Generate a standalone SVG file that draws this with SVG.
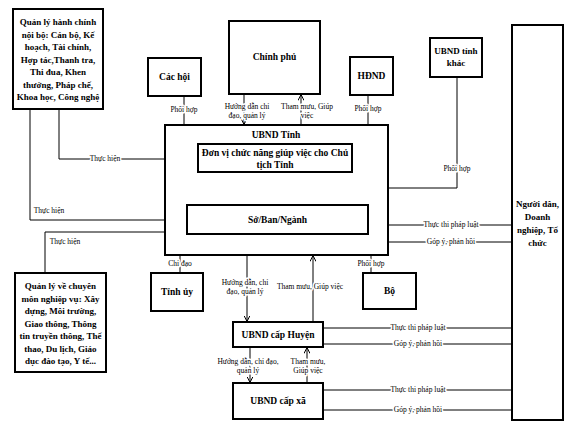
<svg xmlns="http://www.w3.org/2000/svg" width="575" height="427" viewBox="0 0 575 427">
<defs>
<marker id="ah" viewBox="0 0 6 6" refX="5.5" refY="3" markerWidth="6" markerHeight="6" orient="auto" markerUnits="userSpaceOnUse">
<path d="M0,0 L6,3 L0,6" fill="none" stroke="#000" stroke-width="1"/>
</marker>
<style>
.box{fill:#fff;stroke:#000;stroke-width:2}
.t{font-family:"Liberation Serif","Times New Roman",serif;font-size:9.5px;font-weight:bold;text-anchor:middle;fill:#000}
.s{font-size:9px}
.l{font-family:"Liberation Serif","Times New Roman",serif;font-size:7.5px;text-anchor:middle;fill:#000;stroke:#fff;stroke-width:3;paint-order:stroke;stroke-linejoin:round}
.c{fill:none;stroke:#000;stroke-width:1}
</style>
</defs>
<rect width="575" height="427" fill="#fff"/>
<g id="connectors">
<path class="c" d="M59,109 V159 H198"/>
<path class="c" d="M30,109 V220 H187"/>
<path class="c" d="M165,232 H45 V273"/>
<path class="c" d="M184,96 V125"/>
<path class="c" d="M244,94 V124" marker-end="url(#ah)"/>
<path class="c" d="M301,125 V95" marker-end="url(#ah)"/>
<path class="c" d="M368,95 V125"/>
<path class="c" d="M457,77 V188 H389"/>
<path class="c" d="M246,172 V204" marker-end="url(#ah)"/>
<path class="c" d="M308,205 V173" marker-end="url(#ah)"/>
<path class="c" d="M389,225 H512"/>
<path class="c" d="M389,242 H512"/>
<path class="c" d="M180,255 V273"/>
<path class="c" d="M371,255 V273"/>
<path class="c" d="M247,255 V321" marker-end="url(#ah)"/>
<path class="c" d="M313,322 V256" marker-end="url(#ah)"/>
<path class="c" d="M323,328 H512"/>
<path class="c" d="M323,344 H512"/>
<path class="c" d="M250,347 V382" marker-end="url(#ah)"/>
<path class="c" d="M307,383 V348" marker-end="url(#ah)"/>
<path class="c" d="M323,390 H512"/>
<path class="c" d="M323,410 H512"/>
<text class="l" x="105" y="161">Thực hiện</text>
<text class="l" x="49" y="213">Thực hiện</text>
<text class="l" x="65" y="244">Thực hiện</text>
<text class="l" x="184" y="112">Phối hợp</text>
<text class="l" x="247" y="109">Hướng dẫn chỉ</text>
<text class="l" x="247" y="118">đạo, quản lý</text>
<text class="l" x="307" y="109">Tham mưu, Giúp</text>
<text class="l" x="307" y="118">việc</text>
<text class="l" x="368" y="111">Phối hợp</text>
<text class="l" x="457" y="171">Phối hợp</text>
<text class="l" x="246" y="185">Hướng dẫn, chỉ đạo,</text>
<text class="l" x="246" y="195">quản lý</text>
<text class="l" x="312" y="185">Tham mưu, Giúp</text>
<text class="l" x="312" y="195">việc</text>
<text class="l" x="451" y="227">Thực thi pháp luật</text>
<text class="l" x="451" y="244">Góp ý, phản hồi</text>
<text class="l" x="180" y="266">Chỉ đạo</text>
<text class="l" x="371" y="266">Phối hợp</text>
<text class="l" x="245" y="285">Hướng dẫn, chỉ</text>
<text class="l" x="245" y="294">đạo, quản lý</text>
<text class="l" x="310" y="289">Tham mưu, Giúp việc</text>
<text class="l" x="418" y="330">Thực thi pháp luật</text>
<text class="l" x="418" y="346">Góp ý, phản hồi</text>
<text class="l" x="248" y="364">Hướng dẫn, chỉ đạo,</text>
<text class="l" x="248" y="373">quản lý</text>
<text class="l" x="308" y="364">Tham mưu,</text>
<text class="l" x="308" y="373">Giúp việc</text>
<text class="l" x="418" y="392">Thực thi pháp luật</text>
<text class="l" x="418" y="412">Góp ý, phản hồi</text>
</g>
<g id="ql-hanh-chinh">
<rect class="box" x="13" y="9" width="90" height="100"/>
<text class="t s" x="58" y="25">Quản lý hành chính</text>
<text class="t s" x="58" y="37.5">nội bộ: Cán bộ, Kế</text>
<text class="t s" x="58" y="50">hoạch, Tài chính,</text>
<text class="t s" x="58" y="62.5">Hợp tác,Thanh tra,</text>
<text class="t s" x="58" y="75">Thi đua, Khen</text>
<text class="t s" x="58" y="87.5">thưởng, Pháp chế,</text>
<text class="t s" x="58" y="100">Khoa học, Công nghệ</text>
</g>
<g id="cac-hoi">
<rect class="box" x="148" y="58" width="53" height="38"/>
<text class="t" x="174.5" y="80">Các hội</text>
</g>
<g id="chinh-phu">
<rect class="box" x="229" y="21" width="91" height="73"/>
<text class="t" x="274.5" y="60">Chính phủ</text>
</g>
<g id="hdnd">
<rect class="box" x="350" y="57" width="43" height="38"/>
<text class="t" x="371.5" y="79">HĐND</text>
</g>
<g id="ubnd-tinh-khac">
<rect class="box" x="430" y="38" width="52" height="39"/>
<text class="t s" x="456" y="54">UBND tỉnh</text>
<text class="t s" x="456" y="66">khác</text>
</g>
<g id="nguoi-dan">
<rect class="box" x="512" y="25" width="51" height="395"/>
<text class="t s" x="537.5" y="207">Người dân,</text>
<text class="t s" x="537.5" y="220">Doanh</text>
<text class="t s" x="537.5" y="233">nghiệp, Tổ</text>
<text class="t s" x="537.5" y="246">chức</text>
</g>
<g id="ubnd-tinh">
<rect class="box" x="165" y="125" width="223" height="130"/>
<text class="t" x="276" y="138">UBND Tỉnh</text>
</g>
<g id="don-vi">
<rect class="box" x="198" y="144" width="154" height="28"/>
<text class="t" x="275" y="156">Đơn vị chức năng giúp việc cho Chủ</text>
<text class="t" x="275" y="168">tịch Tỉnh</text>
</g>
<g id="so-ban-nganh">
<rect class="box" x="187" y="205" width="181" height="29"/>
<text class="t" x="277.5" y="223">Sở/Ban/Ngành</text>
</g>
<g id="ql-chuyen-mon">
<rect class="box" x="15" y="273" width="91" height="99"/>
<text class="t s" x="60.5" y="289">Quản lý về chuyên</text>
<text class="t s" x="60.5" y="301.5">môn nghiệp vụ: Xây</text>
<text class="t s" x="60.5" y="314">dựng, Môi trường,</text>
<text class="t s" x="60.5" y="326.5">Giao thông, Thông</text>
<text class="t s" x="60.5" y="339">tin truyền thông, Thể</text>
<text class="t s" x="60.5" y="351.5">thao, Du lịch, Giáo</text>
<text class="t s" x="60.5" y="364">dục đào tạo, Y tế...</text>
</g>
<g id="tinh-uy">
<rect class="box" x="151" y="273" width="52" height="38"/>
<text class="t" x="177" y="295">Tỉnh ủy</text>
</g>
<g id="bo">
<rect class="box" x="363" y="273" width="53" height="36"/>
<text class="t" x="389.5" y="294">Bộ</text>
</g>
<g id="ubnd-huyen">
<rect class="box" x="233" y="322" width="90" height="25"/>
<text class="t" x="278" y="338">UBND cấp Huyện</text>
</g>
<g id="ubnd-xa">
<rect class="box" x="233" y="383" width="90" height="36"/>
<text class="t" x="278" y="404">UBND cấp xã</text>
</g>
</svg>
